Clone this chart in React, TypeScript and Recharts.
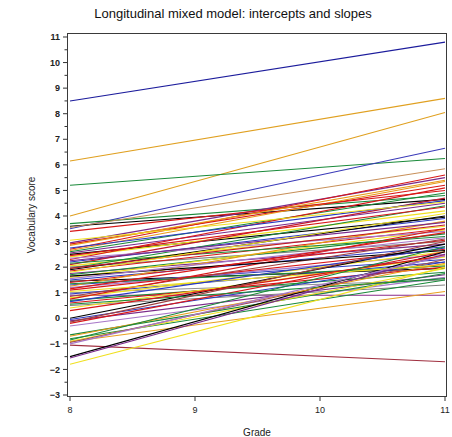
import React from "react";
import { LineChart, Line, XAxis, YAxis } from "recharts";

// grade axis ticks and score axis ticks
const grades = [8, 9, 10, 11];
const scoreTicks = [-3, -2, -1, 0, 1, 2, 3, 4, 5, 6, 7, 8, 9, 10, 11];

// fitted score of each student at grade 8 and at grade 11
const scoreAtGrade8 = [
  8.5, 6.15, 4.0, 5.2, 3.5, 3.7, 3.6, 3.55, 2.95, 2.9,
  2.7, 2.65, 2.6, 2.55, 2.5, 2.4, 2.3, 2.2, 2.1, 2.05,
  2.0, 1.9, 1.85, 1.75, 1.7, 1.6, 1.5, 1.45, 1.4, 1.3,
  1.25, 1.2, 1.1, 1.0, 0.95, 0.9, 0.85, 0.8, 0.7, 0.6,
  0.5, 0.4, 0.0, -0.05, -0.1, -0.2, -0.3, -0.65, -0.8, -0.9,
  -0.92, -0.95, -1.05, -1.5, -1.55, -1.8, 1.95, 2.35, 1.35, 0.75,
  3.4, 2.85, 2.75, 2.45, 2.25, 2.15, 1.95, 1.8, 1.65, 1.55,
  1.15, 1.05, 0.65, 0.55, 0.3, -0.15, -0.7, -0.85, -1.0, 3.05,
];
const scoreAtGrade11 = [
  10.8, 8.6, 8.05, 6.25, 6.65, 4.8, 4.65, 5.85, 5.5, 5.2,
  5.6, 5.35, 4.9, 4.5, 3.95, 4.2, 5.1, 3.9, 4.7, 3.6,
  3.0, 4.0, 3.5, 2.9, 3.3, 3.45, 2.8, 1.95, 3.05, 2.3,
  3.8, 2.5, 2.7, 1.5, 2.2, 0.9, 3.1, 2.6, 1.8, 2.0,
  1.3, 2.4, 2.9, 2.2, 1.7, 2.6, 1.6, 1.75, 1.5, 1.95,
  1.05, 2.3, -1.7, 2.6, 2.5, 2.0, 4.4, 3.4, 2.05, 3.5,
  5.0, 5.4, 4.6, 4.35, 3.75, 3.2, 3.65, 4.1, 2.65, 3.15,
  3.35, 2.1, 2.75, 1.55, 2.45, 3.0, 2.15, 2.8, 2.45, 4.55,
];

const lineColors = [
  "#1c1c9c", "#e0a020", "#e0a020", "#1a8a3a", "#3a3ab8", "#1a8a3a", "#000000", "#c8905a", "#7a2a8a", "#d81818",
  "#d81818", "#e89a18", "#1a8a3a", "#7a2a8a", "#000000", "#f0e020", "#d81818", "#2a3ac0", "#c01830", "#f0e020",
  "#808080", "#000000", "#d81818", "#7a2a8a", "#1a8a3a", "#f0e020", "#2a3ac0", "#000000", "#d81818", "#2a3ac0",
  "#e89a18", "#a878c8", "#d81818", "#909090", "#2a3ac0", "#8a2a8a", "#a04040", "#f0e020", "#1a8a3a", "#d81818",
  "#808080", "#f0e020", "#000000", "#2a3ac0", "#7a2a8a", "#d81818", "#a878c8", "#1a8a3a", "#1a8a3a", "#f0e020",
  "#e8a020", "#a05050", "#a03040", "#000000", "#7a2a8a", "#f0e020", "#1a8a3a", "#a878c8", "#1a8a3a", "#d81818",
  "#d81818", "#e89a18", "#2a3ac0", "#d81818", "#7a2a8a", "#1a8a3a", "#c01830", "#f0e020", "#000000", "#a878c8",
  "#d81818", "#f0e020", "#2a3ac0", "#1a8a3a", "#d81818", "#a04040", "#e89a18", "#1a8a3a", "#a878c8", "#f0e020",
];

const rows = [
  Object.fromEntries([["grade", 8], ...scoreAtGrade8.map((v, i) => [`s${i}`, v])]),
  Object.fromEntries([["grade", 11], ...scoreAtGrade11.map((v, i) => [`s${i}`, v])]),
];

const yTickValues = scoreTicks.flatMap((t, i) => (i < scoreTicks.length - 1 ? [t, t + 0.5] : [t]));

const font = "'Liberation Sans', Arial, sans-serif";

const ScoreTick = (props: any) => {
  const { x, y, payload } = props;
  const v = payload.value;
  const major = Number.isInteger(v);
  return (
    <g>
      <line x1={x - (major ? 4 : 2.5)} x2={x} y1={y} y2={y} stroke="#333" strokeWidth={1} />
      {major && (
        <text x={x - 7} y={y} dy={3.2} textAnchor="end" fontSize={9} fontWeight="bold" fill="#222" fontFamily={font}>
          {v < 0 ? `\u2212${-v}` : v}
        </text>
      )}
    </g>
  );
};

const App = () => {
  return (
    <div style={{ position: "absolute", left: 0, top: 0, width: 452, height: 437, background: "#fff", fontFamily: font }}>
      <div style={{ position: "absolute", left: 0, width: 466, top: 6, textAlign: "center", fontSize: 13, color: "#111" }}>
        Longitudinal mixed model: intercepts and slopes
      </div>
      <div
        style={{
          position: "absolute",
          left: 31,
          top: 215,
          transform: "translate(-50%, -50%) rotate(-90deg)",
          fontSize: 10,
          color: "#222",
          whiteSpace: "nowrap",
        }}
      >
        Vocabulary score
      </div>
      <div style={{ position: "absolute", left: 257, top: 432, transform: "translate(-50%, -50%)", fontSize: 10, color: "#222" }}>
        Grade
      </div>
      <LineChart width={452} height={437} data={rows} margin={{ top: 33, right: 5, bottom: 10, left: 27 }}>
        <XAxis
          type="number"
          dataKey="grade"
          domain={[7.976, 11.016]}
          ticks={grades}
          interval={0}
          height={30}
          tickSize={4}
          tickMargin={6}
          axisLine={false}
          tickLine={{ stroke: "#333" }}
          tick={{ fontSize: 9, fill: "#222", fontFamily: font }}
        />
        <YAxis
          type="number"
          domain={[-3.078, 11.156]}
          ticks={yTickValues}
          interval={0}
          width={40}
          tickSize={0}
          tickMargin={0}
          axisLine={false}
          tickLine={false}
          tick={<ScoreTick />}
        />
        {scoreAtGrade8.map((_, i) => (
          <Line
            key={i}
            dataKey={`s${i}`}
            stroke={lineColors[i % lineColors.length]}
            strokeWidth={1.1}
            dot={false}
            activeDot={false}
            isAnimationActive={false}
            type="linear"
          />
        ))}
      </LineChart>
      <div
        style={{
          position: "absolute",
          left: 67,
          top: 33,
          width: 380,
          height: 364,
          boxSizing: "border-box",
          border: "1px solid #3a3a3a",
          pointerEvents: "none",
        }}
      />
    </div>
  );
};

export default App;
